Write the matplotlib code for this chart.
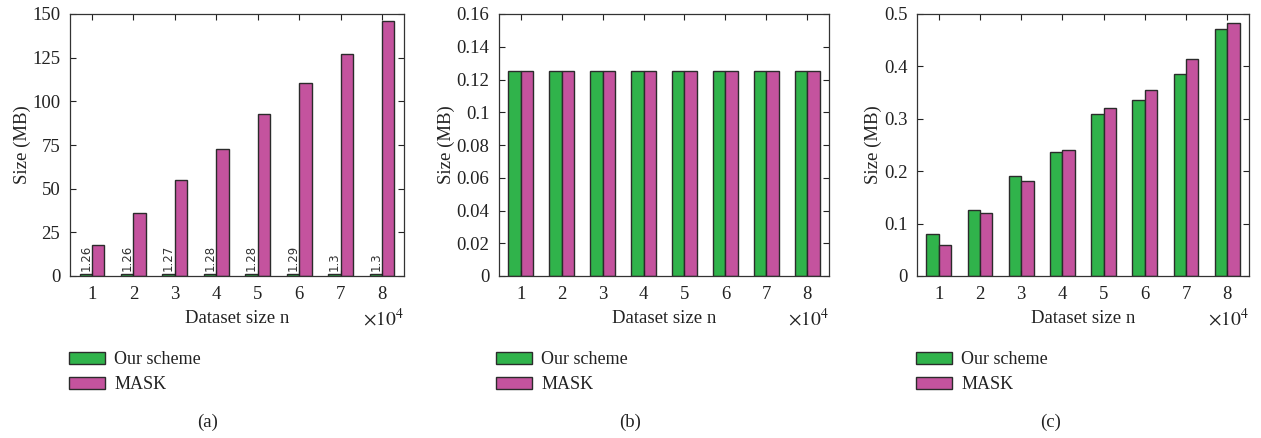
import numpy as np
import matplotlib
matplotlib.use("Agg")
import matplotlib.pyplot as plt
from matplotlib.patches import Patch

plt.rcParams['font.family'] = ['Liberation Serif', 'DejaVu Serif']
plt.rcParams['mathtext.fontset'] = 'stix'

n_values = [1, 2, 3, 4, 5, 6, 7, 8]
series_names = ["Our scheme", "MASK"]

# (a)
ours_a = [1.26, 1.26, 1.27, 1.28, 1.28, 1.29, 1.3, 1.3]
mask_a = [17.8, 36.0, 55.0, 72.8, 92.6, 110.5, 127.1, 146.0]
yticks_a = [0, 25, 50, 75, 100, 125, 150]
yticklabels_a = ["0", "25", "50", "75", "100", "125", "150"]

# (b)
ours_b = [0.125, 0.125, 0.125, 0.125, 0.125, 0.125, 0.125, 0.125]
mask_b = [0.1252, 0.1252, 0.1252, 0.1252, 0.1252, 0.1252, 0.1252, 0.1252]
yticks_b = [0, 0.02, 0.04, 0.06, 0.08, 0.1, 0.12, 0.14, 0.16]
yticklabels_b = ["0", "0.02", "0.04", "0.06", "0.08", "0.1", "0.12", "0.14", "0.16"]

# (c)
ours_c = [0.080, 0.126, 0.191, 0.237, 0.309, 0.336, 0.385, 0.471]
mask_c = [0.059, 0.120, 0.182, 0.240, 0.320, 0.355, 0.414, 0.483]
yticks_c = [0, 0.1, 0.2, 0.3, 0.4, 0.5]
yticklabels_c = ["0", "0.1", "0.2", "0.3", "0.4", "0.5"]

captions = ["(a)", "(b)", "(c)"]

GREEN = "#30b34b"
MAGENTA = "#c4539e"
EDGE = "#2b2b2b"
TEXT = "#222222"

W, H = 1261, 438
fig = plt.figure(figsize=(W / 100, H / 100), dpi=100)


def px_axes(left, right, top, bottom):
    return fig.add_axes([left / W, 1 - bottom / H, (right - left) / W, (bottom - top) / H])


panels = [
    (px_axes(70, 404, 14, 276), ours_a, mask_a, yticks_a, yticklabels_a),
    (px_axes(499, 829, 14, 276), ours_b, mask_b, yticks_b, yticklabels_b),
    (px_axes(917, 1249, 14, 276), ours_c, mask_c, yticks_c, yticklabels_c),
]

bw = 0.3
x = np.array(n_values, dtype=float)
for i, (ax, ours, mask, yt, ytl) in enumerate(panels):
    ax.bar(x - bw / 2, ours, width=bw, color=GREEN, edgecolor=EDGE, linewidth=1.0)
    ax.bar(x + bw / 2, mask, width=bw, color=MAGENTA, edgecolor=EDGE, linewidth=1.0)
    ax.set_xlim(0.47, 8.53)
    ax.set_ylim(yt[0], yt[-1])
    ax.set_xticks(n_values)
    ax.set_xticklabels([str(v) for v in n_values])
    ax.set_yticks(yt)
    ax.set_yticklabels(ytl)
    ax.tick_params(direction='in', top=True, right=True, length=4, width=0.8,
                   labelsize=13.5, colors=TEXT, pad=7)
    for s in ax.spines.values():
        s.set_linewidth(0.9)
        s.set_color("#333333")
    ax.set_xlabel("Dataset size n", fontsize=13.5, color=TEXT, labelpad=5)
    ax.set_ylabel("Size (MB)", fontsize=13.5, color=TEXT, labelpad=1)
    ax.text(1.0, -0.162, r"$\times10^4$", transform=ax.transAxes, ha='right',
            va='center', fontsize=14, color=TEXT)

    if i == 0:
        for xi, v in zip(x, ours):
            ax.text(xi - bw / 2, v + 1.5, f"{v:g}", rotation=90, ha='center',
                    va='bottom', fontsize=8.5, color="#333333", family='DejaVu Sans')

    # legend under each panel
    left_px = [70, 497, 917][i]
    handles = [Patch(facecolor=GREEN, edgecolor=EDGE, linewidth=1.0),
               Patch(facecolor=MAGENTA, edgecolor=EDGE, linewidth=1.0)]
    fig.legend(handles, series_names, loc='upper left',
               bbox_to_anchor=((left_px - 8) / W, 1 - 344 / H),
               frameon=False, fontsize=13, handlelength=2.0, handleheight=0.65,
               handletextpad=0.5, labelspacing=0.45, borderaxespad=0,
               labelcolor=TEXT)

    cx = [208, 630, 1051][i]
    fig.text(cx / W, 1 - 422 / H, captions[i], ha='center', va='center',
             fontsize=13.5, color=TEXT)

fig.savefig("out.png", dpi=100, facecolor='white')
